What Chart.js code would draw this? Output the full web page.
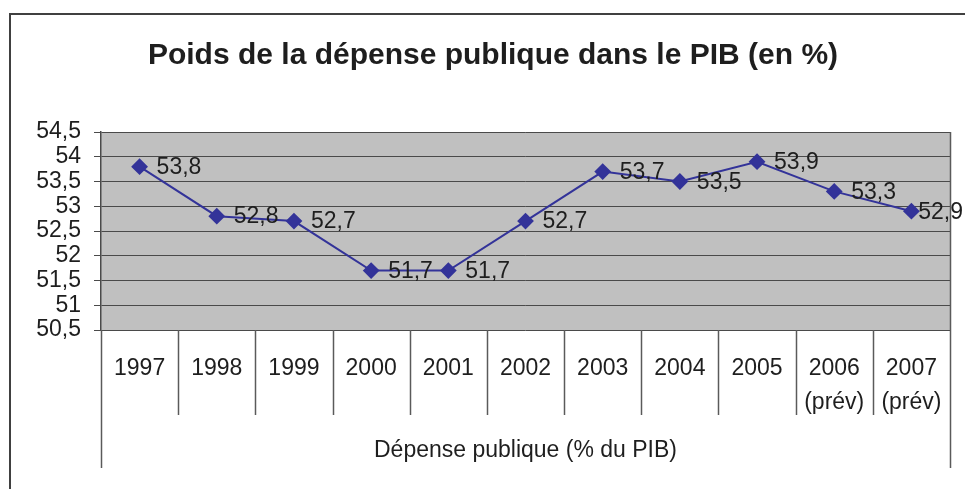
<!DOCTYPE html>
<html>
<head>
<meta charset="utf-8">
<script src="https://cdn.jsdelivr.net/npm/chart.js@4/dist/chart.umd.min.js"></script>
<style>
  html, body { margin: 0; padding: 0; background: #fff; }
  #wrap { width: 965px; height: 489px; }
</style>
</head>
<body>
<div id="wrap"><canvas id="depChart" width="965" height="489"></canvas></div>
<script>
// data
const years   = [['1997'], ['1998'], ['1999'], ['2000'], ['2001'], ['2002'], ['2003'], ['2004'], ['2005'], ['2006', '(prév)'], ['2007', '(prév)']];
const depense = [53.8, 52.8, 52.7, 51.7, 51.7, 52.7, 53.7, 53.5, 53.9, 53.3, 52.9];
const yMin = 50.5, yMax = 54.5, yStep = 0.5;

const titleText = 'Poids de la dépense publique dans le PIB (en %)';
const axisTitle = 'Dépense publique (% du PIB)';

const FONT = '"Liberation Sans", Arial, sans-serif';
const INK = '#1e1e1e';
const LINE = '#333399';

const fmt = v => String(v).replace('.', ',');

// background, frame, separators, title and value labels
const decor = {
  id: 'decor',
  beforeDraw(chart) {
    const { ctx, chartArea: a } = chart;
    ctx.save();
    ctx.fillStyle = '#c0c0c0';
    ctx.fillRect(a.left, a.top, a.right - a.left, a.bottom - a.top);
    ctx.restore();
  },
  afterDraw(chart) {
    const { ctx, chartArea: a } = chart;
    const x = chart.scales.x;
    ctx.save();

    // outer border (top + left only)
    ctx.strokeStyle = '#404040';
    ctx.lineWidth = 2;
    ctx.beginPath();
    ctx.moveTo(10, 489);
    ctx.lineTo(10, 14);
    ctx.lineTo(965, 14);
    ctx.stroke();

    // category separators under the plot
    const step = x.getPixelForValue(1) - x.getPixelForValue(0);
    ctx.strokeStyle = '#5a5a5a';
    ctx.lineWidth = 1.5;
    for (let i = 0; i <= years.length; i++) {
      const px = Math.round(x.getPixelForValue(0) - step / 2 + i * step) + 0.5;
      const end = (i === 0 || i === years.length) ? 468 : 415;
      ctx.beginPath();
      ctx.moveTo(px, i === years.length ? a.top : a.bottom);
      ctx.lineTo(px, end);
      ctx.stroke();
    }

    // title
    ctx.fillStyle = INK;
    ctx.font = 'bold 30px ' + FONT;
    ctx.textAlign = 'center';
    ctx.textBaseline = 'middle';
    ctx.fillText(titleText, 493, 56);

    // value labels
    ctx.font = '23px ' + FONT;
    ctx.textAlign = 'left';
    const meta = chart.getDatasetMeta(0);
    meta.data.forEach((pt, i) => {
      const txt = fmt(depense[i]);
      const w = ctx.measureText(txt).width;
      const lx = Math.min(pt.x + 17, 963 - w);
      ctx.fillText(txt, lx, pt.y + 1);
    });
    ctx.restore();
  }
};

new Chart(document.getElementById('depChart'), {
  type: 'line',
  data: {
    labels: years,
    datasets: [{
      data: depense,
      borderColor: LINE,
      backgroundColor: LINE,
      borderWidth: 2,
      pointStyle: 'rectRot',
      pointRadius: 7,
      pointHoverRadius: 7,
      tension: 0
    }]
  },
  options: {
    responsive: false,
    animation: false,
    events: [],
    layout: { padding: { top: 132, right: 15, bottom: 0, left: 0 } },
    plugins: { legend: { display: false }, title: { display: false }, tooltip: { enabled: false } },
    scales: {
      x: {
        type: 'category',
        offset: true,
        grid: { display: false, drawTicks: false },
        border: { display: false },
        ticks: {
          color: INK,
          font: { family: FONT, size: 23, lineHeight: 1.5 },
          padding: 21,
          maxRotation: 0,
          autoSkip: false
        },
        title: {
          display: true,
          text: axisTitle,
          color: INK,
          font: { family: FONT, size: 23 },
          padding: { top: 0, bottom: 25 }
        },
        afterFit(s) { s.height = 159; }
      },
      y: {
        min: yMin,
        max: yMax,
        grid: { color: '#4a4a4a', lineWidth: 1, tickLength: 7, tickColor: '#4a4a4a' },
        border: { display: true, color: '#4a4a4a', width: 1.5 },
        ticks: {
          stepSize: yStep,
          autoSkip: false,
          color: INK,
          font: { family: FONT, size: 23 },
          padding: 13,
          callback: v => fmt(v)
        },
        afterFit(s) { s.width = 101; }
      }
    }
  },
  plugins: [decor]
});
</script>
</body>
</html>
